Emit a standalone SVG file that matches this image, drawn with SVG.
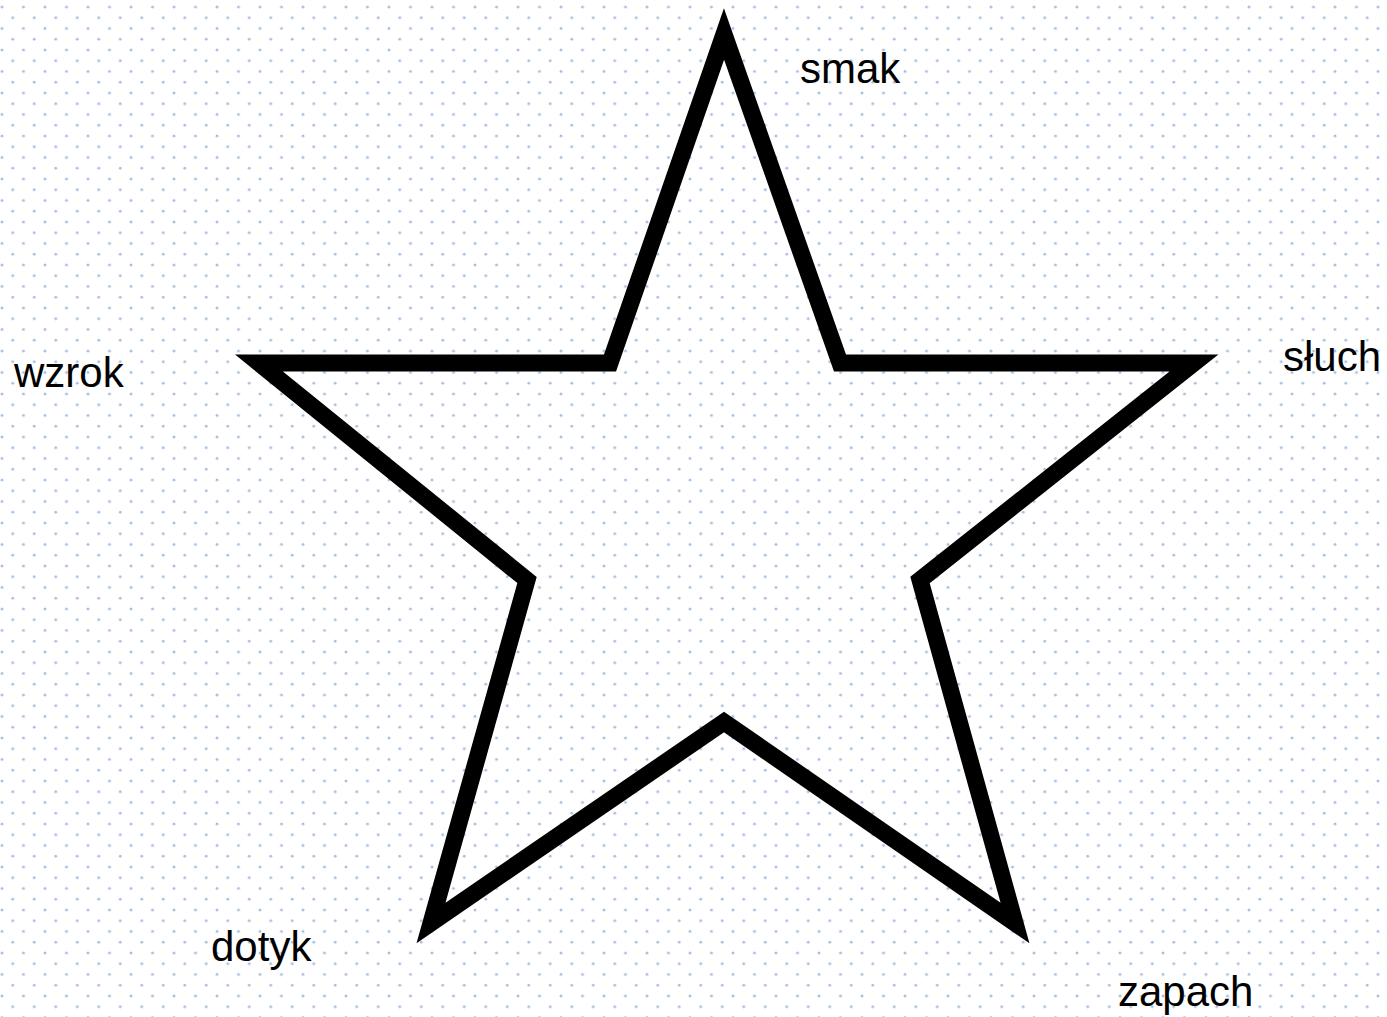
<svg xmlns="http://www.w3.org/2000/svg" width="1387" height="1017" viewBox="0 0 1387 1017">
<defs>
<pattern id="dots" x="0" y="0" width="21.5" height="21.5" patternUnits="userSpaceOnUse">
<circle cx="2" cy="7" r="1.4" fill="#a3bde2"/>
<circle cx="12.75" cy="17.75" r="1.4" fill="#a3bde2"/>
</pattern>
<style>
.lbl{font-family:"Liberation Sans",Arial,sans-serif;font-size:42px;fill:#000}
.star{fill:none;stroke:#000;stroke-width:17;stroke-linejoin:miter;stroke-miterlimit:10}
</style>
</defs>
<rect width="1387" height="1017" fill="#fff"/>
<rect width="1387" height="1017" fill="url(#dots)"/>
<g id="star">
<polygon class="star" points="724,34 840,363 1194,363 920,580 1015,923 724,722 431,923 527,580 259,363 610,363"/>
</g>
<g id="connectors"/>
<g id="label-smak"><text class="lbl" x="800" y="83">smak</text></g>
<g id="label-sluch"><text class="lbl" x="1283" y="371">słuch</text></g>
<g id="label-wzrok"><text class="lbl" x="14" y="387">wzrok</text></g>
<g id="label-dotyk"><text class="lbl" x="211" y="961">dotyk</text></g>
<g id="label-zapach"><text class="lbl" x="1118" y="1006">zapach</text></g>
</svg>
